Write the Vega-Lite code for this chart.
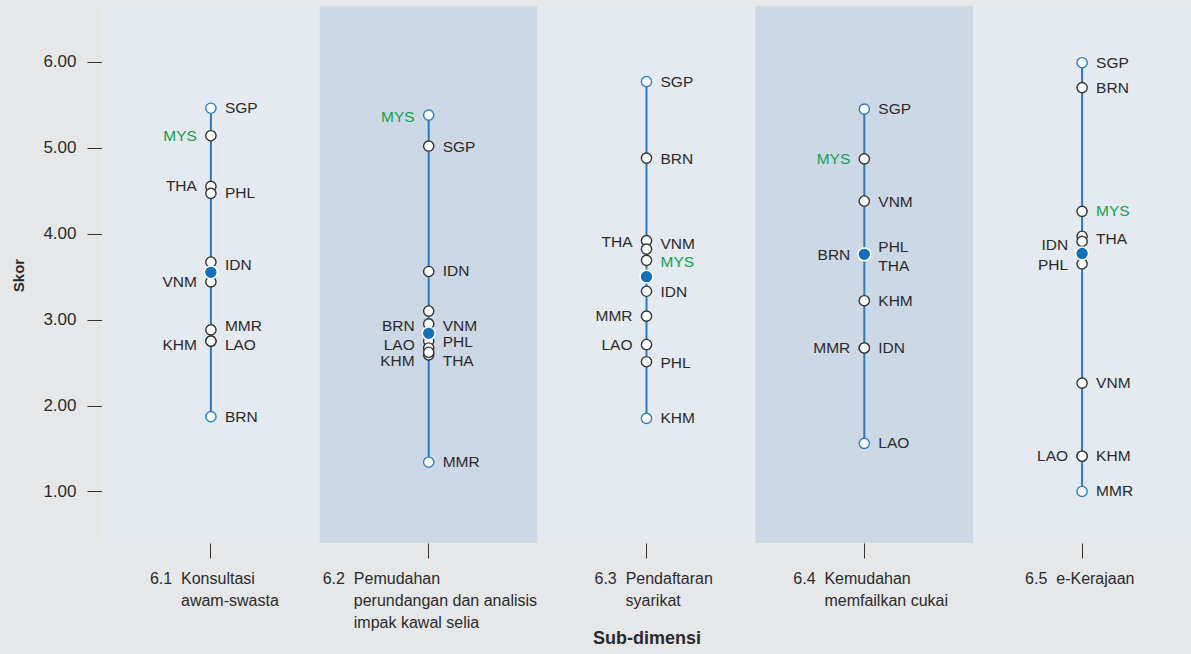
{
  "$schema": "https://vega.github.io/schema/vega-lite/v6.json",
  "width": 1089,
  "height": 537,
  "autosize": "none",
  "padding": {"left": 102, "top": 6, "right": 0, "bottom": 111},
  "background": "#e6e7e9",
  "config": {
    "view": {"stroke": null},
    "font": "Liberation Sans, Arial, sans-serif"
  },
  "datasets": {
    "subs": [
      {"sub": "6.1"}, {"sub": "6.2"}, {"sub": "6.3"}, {"sub": "6.4"}, {"sub": "6.5"}
    ],
    "avg": [
      {"sub": "6.1", "score": 3.55},
      {"sub": "6.2", "score": 2.84},
      {"sub": "6.3", "score": 3.50},
      {"sub": "6.4", "score": 3.76},
      {"sub": "6.5", "score": 3.77}
    ],
    "pts": [
      {"sub": "6.1", "country": "SGP", "score": 5.46, "side": "R", "ly": 5.46},
      {"sub": "6.1", "country": "MYS", "score": 5.14, "side": "L", "ly": 5.14},
      {"sub": "6.1", "country": "THA", "score": 4.55, "side": "L", "ly": 4.55},
      {"sub": "6.1", "country": "PHL", "score": 4.47, "side": "R", "ly": 4.47},
      {"sub": "6.1", "country": "IDN", "score": 3.67, "side": "R", "ly": 3.64},
      {"sub": "6.1", "country": "VNM", "score": 3.44, "side": "L", "ly": 3.44},
      {"sub": "6.1", "country": "MMR", "score": 2.88, "side": "R", "ly": 2.92},
      {"sub": "6.1", "country": "KHM", "score": 2.75, "side": "L", "ly": 2.70},
      {"sub": "6.1", "country": "LAO", "score": 2.75, "side": "R", "ly": 2.70},
      {"sub": "6.1", "country": "BRN", "score": 1.87, "side": "R", "ly": 1.87},

      {"sub": "6.2", "country": "MYS", "score": 5.38, "side": "L", "ly": 5.36},
      {"sub": "6.2", "country": "SGP", "score": 5.02, "side": "R", "ly": 5.01},
      {"sub": "6.2", "country": "IDN", "score": 3.56, "side": "R", "ly": 3.56},
      {"sub": "6.2", "country": "VNM", "score": 3.10, "side": "R", "ly": 2.93},
      {"sub": "6.2", "country": "BRN", "score": 2.95, "side": "L", "ly": 2.93},
      {"sub": "6.2", "country": "PHL", "score": 2.75, "side": "R", "ly": 2.74},
      {"sub": "6.2", "country": "LAO", "score": 2.67, "side": "L", "ly": 2.70},
      {"sub": "6.2", "country": "THA", "score": 2.59, "side": "R", "ly": 2.52},
      {"sub": "6.2", "country": "KHM", "score": 2.62, "side": "L", "ly": 2.52},
      {"sub": "6.2", "country": "MMR", "score": 1.34, "side": "R", "ly": 1.34},

      {"sub": "6.3", "country": "SGP", "score": 5.77, "side": "R", "ly": 5.77},
      {"sub": "6.3", "country": "BRN", "score": 4.88, "side": "R", "ly": 4.87},
      {"sub": "6.3", "country": "THA", "score": 3.92, "side": "L", "ly": 3.90},
      {"sub": "6.3", "country": "VNM", "score": 3.82, "side": "R", "ly": 3.88},
      {"sub": "6.3", "country": "MYS", "score": 3.69, "side": "R", "ly": 3.67},
      {"sub": "6.3", "country": "IDN", "score": 3.33, "side": "R", "ly": 3.32},
      {"sub": "6.3", "country": "MMR", "score": 3.04, "side": "L", "ly": 3.04},
      {"sub": "6.3", "country": "LAO", "score": 2.71, "side": "L", "ly": 2.71},
      {"sub": "6.3", "country": "PHL", "score": 2.51, "side": "R", "ly": 2.49},
      {"sub": "6.3", "country": "KHM", "score": 1.85, "side": "R", "ly": 1.85},

      {"sub": "6.4", "country": "SGP", "score": 5.45, "side": "R", "ly": 5.45},
      {"sub": "6.4", "country": "MYS", "score": 4.87, "side": "L", "ly": 4.87},
      {"sub": "6.4", "country": "VNM", "score": 4.38, "side": "R", "ly": 4.37},
      {"sub": "6.4", "country": "BRN", "score": 3.76, "side": "L", "ly": 3.75},
      {"sub": "6.4", "country": "PHL", "score": 3.76, "side": "R", "ly": 3.84},
      {"sub": "6.4", "country": "THA", "score": 3.76, "side": "R", "ly": 3.62},
      {"sub": "6.4", "country": "KHM", "score": 3.22, "side": "R", "ly": 3.22},
      {"sub": "6.4", "country": "MMR", "score": 2.67, "side": "L", "ly": 2.67},
      {"sub": "6.4", "country": "IDN", "score": 2.67, "side": "R", "ly": 2.67},
      {"sub": "6.4", "country": "LAO", "score": 1.56, "side": "R", "ly": 1.56},

      {"sub": "6.5", "country": "SGP", "score": 5.99, "side": "R", "ly": 5.99},
      {"sub": "6.5", "country": "BRN", "score": 5.70, "side": "R", "ly": 5.70},
      {"sub": "6.5", "country": "MYS", "score": 4.26, "side": "R", "ly": 4.26},
      {"sub": "6.5", "country": "THA", "score": 3.97, "side": "R", "ly": 3.94},
      {"sub": "6.5", "country": "IDN", "score": 3.91, "side": "L", "ly": 3.87},
      {"sub": "6.5", "country": "PHL", "score": 3.65, "side": "L", "ly": 3.63},
      {"sub": "6.5", "country": "VNM", "score": 2.26, "side": "R", "ly": 2.26},
      {"sub": "6.5", "country": "LAO", "score": 1.41, "side": "L", "ly": 1.41},
      {"sub": "6.5", "country": "KHM", "score": 1.41, "side": "R", "ly": 1.41},
      {"sub": "6.5", "country": "MMR", "score": 1.00, "side": "R", "ly": 1.00}
    ]
  },
  "encoding": {
    "x": {
      "field": "sub",
      "type": "nominal",
      "sort": ["6.1", "6.2", "6.3", "6.4", "6.5"],
      "scale": {"paddingInner": 0, "paddingOuter": 0},
      "axis": {
        "orient": "bottom",
        "domain": false,
        "offset": 0,
        "tickSize": 15,
        "tickColor": "#333333",
        "tickWidth": 1,
        "labelAngle": 0,
        "labelAlign": "left",
        "labelBaseline": "top",
        "labelPadding": 12,
        "labelFontSize": 16,
        "labelLineHeight": 22,
        "labelColor": "#2b2b2b",
        "labelLimit": 1000,
        "labelOverlap": false,
        "labelOffset": {
          "condition": [
            {"test": "datum.value == '6.1'", "value": -61},
            {"test": "datum.value == '6.2'", "value": -106},
            {"test": "datum.value == '6.3'", "value": -52},
            {"test": "datum.value == '6.4'", "value": -71}
          ],
          "value": -57
        },
        "labelExpr": "datum.value == '6.1' ? ['6.1\u00a0\u00a0Konsultasi', '\u200b\u00a0\u00a0\u00a0\u00a0\u00a0\u00a0\u00a0awam-swasta'] : datum.value == '6.2' ? ['6.2\u00a0\u00a0Pemudahan', '\u200b\u00a0\u00a0\u00a0\u00a0\u00a0\u00a0\u00a0perundangan dan analisis', '\u200b\u00a0\u00a0\u00a0\u00a0\u00a0\u00a0\u00a0impak kawal selia'] : datum.value == '6.3' ? ['6.3\u00a0\u00a0Pendaftaran', '\u200b\u00a0\u00a0\u00a0\u00a0\u00a0\u00a0\u00a0syarikat'] : datum.value == '6.4' ? ['6.4\u00a0\u00a0Kemudahan', '\u200b\u00a0\u00a0\u00a0\u00a0\u00a0\u00a0\u00a0memfailkan cukai'] : ['6.5\u00a0\u00a0e-Kerajaan']",
        "title": "Sub-dimensi",
        "titleFontSize": 18,
        "titleFontWeight": "bold",
        "titleColor": "#2b2b2b",
        "titleBaseline": "alphabetic",
        "titleY": 100
      }
    }
  },
  "layer": [
    {
      "data": {"name": "subs"},
      "mark": {"type": "rect"},
      "encoding": {
        "y": {"datum": 6.65, "type": "quantitative", "scale": {"domain": [0.4, 6.65], "nice": false, "zero": false}},
        "y2": {"datum": 0.4},
        "fill": {
          "condition": {"test": "datum.sub == '6.2' || datum.sub == '6.4'", "value": "#cdd8e6"},
          "value": "#e4eaf0"
        }
      }
    },
    {
      "data": {"name": "pts"},
      "mark": {"type": "rule", "color": "#2a7bbd", "strokeWidth": 2},
      "encoding": {
        "y": {"aggregate": "min", "field": "score", "type": "quantitative"},
        "y2": {"aggregate": "max", "field": "score"}
      }
    },
    {
      "data": {"name": "pts"},
      "transform": [
        {"joinaggregate": [{"op": "min", "field": "score", "as": "mn"}, {"op": "max", "field": "score", "as": "mx"}], "groupby": ["sub"]}
      ],
      "mark": {"type": "point", "shape": "circle", "filled": true, "fill": "white", "size": 105, "strokeWidth": 1.4, "opacity": 1},
      "encoding": {
        "y": {
          "field": "score",
          "type": "quantitative",
          "axis": {
            "values": [1, 2, 3, 4, 5, 6],
            "format": ".2f",
            "domain": false,
            "grid": false,
            "offset": 0,
            "tickSize": 15,
            "tickColor": "#333333",
            "labelPadding": 11,
            "labelFontSize": 17,
            "labelColor": "#2b2b2b",
            "title": "Skor",
            "titleFontSize": 15,
            "titleFontWeight": "bold",
            "titleColor": "#2b2b2b",
            "titleX": -79,
            "titleY": 269,
            "titleBaseline": "alphabetic",
            "titleAlign": "center",
            "titleAngle": -90
          }
        },
        "stroke": {
          "condition": {"test": "datum.score == datum.mn || datum.score == datum.mx", "value": "#2a80c4"},
          "value": "#333333"
        }
      }
    },
    {
      "data": {"name": "avg"},
      "mark": {"type": "point", "shape": "circle", "filled": true, "fill": "#1170b8", "stroke": "white", "strokeWidth": 1.5, "size": 165, "opacity": 1},
      "encoding": {
        "y": {"field": "score", "type": "quantitative"}
      }
    },
    {
      "data": {"name": "pts"},
      "transform": [{"filter": "datum.side == 'R'"}],
      "mark": {"type": "text", "align": "left", "baseline": "middle", "dx": 14, "fontSize": 15.5},
      "encoding": {
        "y": {"field": "ly", "type": "quantitative"},
        "text": {"field": "country"},
        "color": {
          "condition": {"test": "datum.country == 'MYS'", "value": "#13a14b"},
          "value": "#2b2b2b"
        }
      }
    },
    {
      "data": {"name": "pts"},
      "transform": [{"filter": "datum.side == 'L'"}],
      "mark": {"type": "text", "align": "right", "baseline": "middle", "dx": -14, "fontSize": 15.5},
      "encoding": {
        "y": {"field": "ly", "type": "quantitative"},
        "text": {"field": "country"},
        "color": {
          "condition": {"test": "datum.country == 'MYS'", "value": "#13a14b"},
          "value": "#2b2b2b"
        }
      }
    }
  ]
}
